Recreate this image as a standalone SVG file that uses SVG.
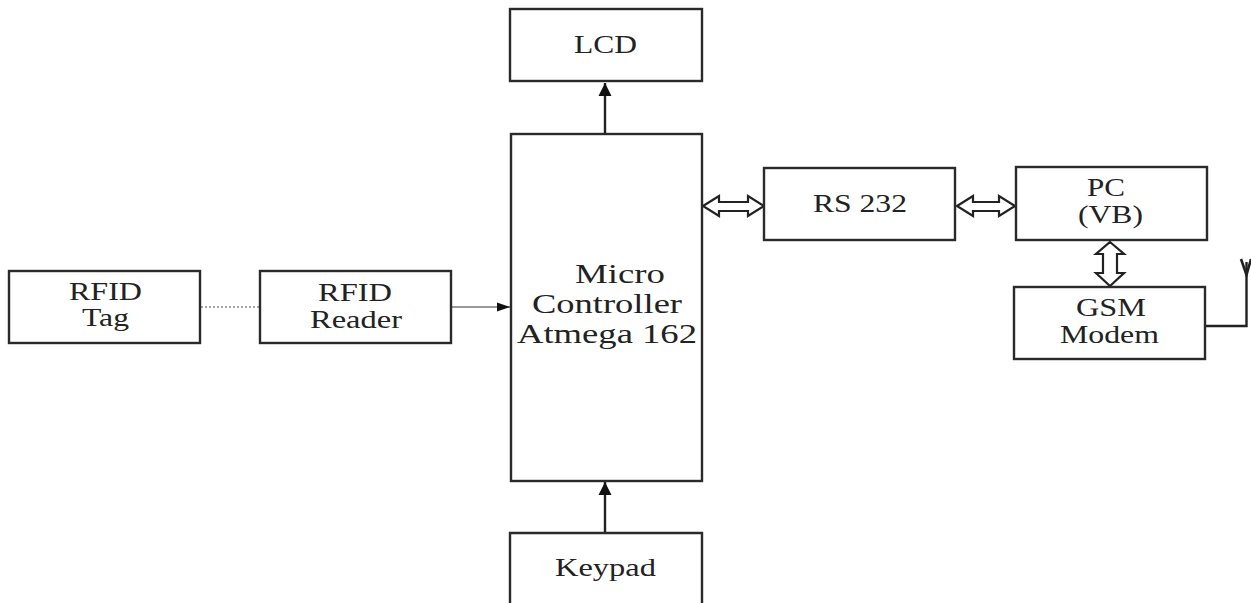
<svg xmlns="http://www.w3.org/2000/svg" width="1251" height="603" viewBox="0 0 1251 603">
<defs>
<style>
.b{fill:#fff;stroke:#2a2a2a;stroke-width:2.4}
.t{font-family:"Liberation Serif",serif;font-size:25px;fill:#222}
.m{font-size:27.500px}
.c{fill:none;stroke:#222;stroke-width:2.4}
.o{fill:#fff;stroke:#222;stroke-width:2.2;stroke-linejoin:miter}
</style>
<marker id="a" markerUnits="userSpaceOnUse" markerWidth="14" markerHeight="14" refX="13" refY="7" orient="auto"><path d="M0 .5L13 7L0 13.5z" fill="#111"/></marker>
<marker id="s" markerUnits="userSpaceOnUse" markerWidth="14" markerHeight="14" refX="13" refY="7" orient="auto"><path d="M0 2.5L13 7L0 11.5z" fill="#111"/></marker>
</defs>
<rect width="1251" height="603" fill="#fff"/>
<g id="connectors">
<path class="c" d="M605 133V83" marker-end="url(#a)"/>
<path class="c" d="M605 533V482" marker-end="url(#a)"/>
<path d="M451 307H510" fill="none" stroke="#777" stroke-width="1.5" marker-end="url(#s)"/>
<path d="M201 307H262" fill="none" stroke="#888" stroke-width="1.5" stroke-dasharray="2 2"/>
<path class="o" d="M703 206L719 196V202H748V196L764 206L748 216V211H719V216Z"/>
<path class="o" d="M957 206L973 196V202H999V196L1015 206L999 216V211H973V216Z"/>
<path class="o" d="M1110 242L1124 254H1117V273H1124L1110 286L1096 273H1103V254H1096Z"/>
<path class="c" d="M1206 326H1246.5V272"/>
<path d="M1241 259L1246.500 275L1251 259" fill="none" stroke="#222" stroke-width="2.6"/>
<path class="c" d="M1246.500 262V275"/>
</g>
<g id="lcd"><rect class="b" x="510" y="9" width="192" height="72"/><text class="t" x="574" y="53" textLength="63" lengthAdjust="spacingAndGlyphs">LCD</text></g>
<g id="mcu"><rect class="b" x="511" y="134" width="191" height="347"/><text class="t m" x="575" y="283" textLength="90" lengthAdjust="spacingAndGlyphs">Micro</text><text class="t m" x="532" y="313" textLength="150" lengthAdjust="spacingAndGlyphs">Controller</text><text class="t m" x="517" y="343" textLength="180" lengthAdjust="spacingAndGlyphs">Atmega 162</text></g>
<g id="keypad"><path class="b" d="M510 603V533H702V603"/><text class="t" x="555" y="576" textLength="101" lengthAdjust="spacingAndGlyphs">Keypad</text></g>
<g id="tag"><rect class="b" x="9" y="271" width="191" height="72"/><text class="t" x="69" y="300" textLength="73" lengthAdjust="spacingAndGlyphs">RFID</text><text class="t" x="82" y="326" textLength="47" lengthAdjust="spacingAndGlyphs">Tag</text></g>
<g id="reader"><rect class="b" x="260" y="271" width="191" height="72"/><text class="t" x="318" y="301" textLength="74" lengthAdjust="spacingAndGlyphs">RFID</text><text class="t" x="310" y="328" textLength="92" lengthAdjust="spacingAndGlyphs">Reader</text></g>
<g id="rs232"><rect class="b" x="764" y="168" width="191" height="72"/><text class="t" x="813" y="212" textLength="94" lengthAdjust="spacingAndGlyphs">RS 232</text></g>
<g id="pc"><rect class="b" x="1016" y="167" width="191" height="73"/><text class="t" x="1087" y="196" textLength="38" lengthAdjust="spacingAndGlyphs">PC</text><text class="t" x="1078" y="223" textLength="65" lengthAdjust="spacingAndGlyphs">(VB)</text></g>
<g id="gsm"><rect class="b" x="1014" y="287" width="191" height="72"/><text class="t" x="1076" y="316" textLength="70" lengthAdjust="spacingAndGlyphs">GSM</text><text class="t" x="1060" y="343" textLength="99" lengthAdjust="spacingAndGlyphs">Modem</text></g>
</svg>
